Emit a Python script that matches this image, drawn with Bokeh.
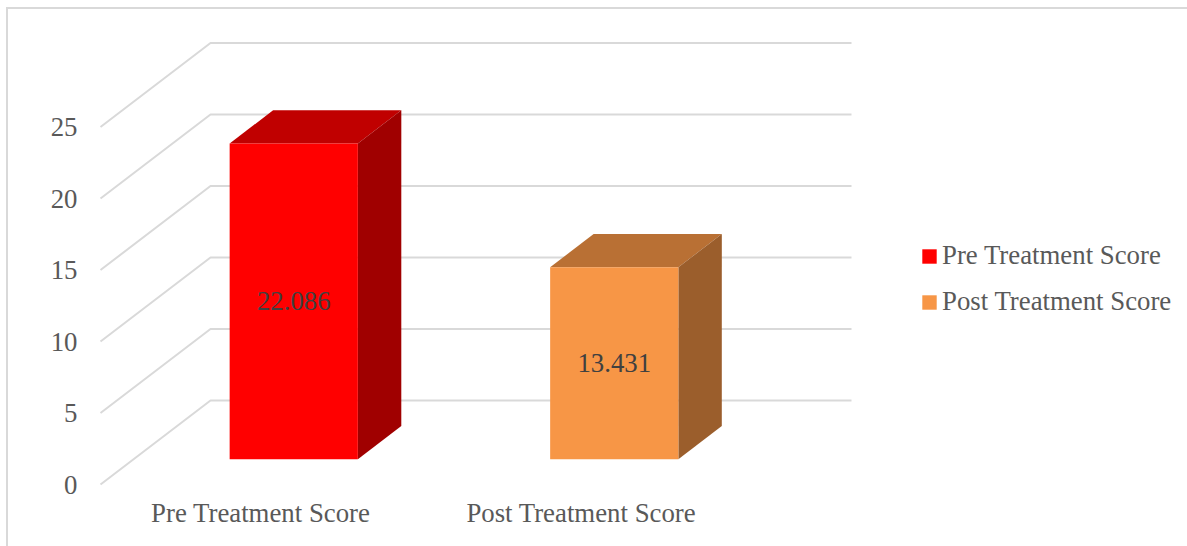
from bokeh.core.properties import value
from bokeh.embed import file_html
from bokeh.models import FixedTicker, Legend, LegendItem, Range1d
from bokeh.plotting import figure
from bokeh.resources import INLINE

categories = ["Pre Treatment Score", "Post Treatment Score"]
scores = [22.086, 13.431]
score_labels = ["22.086", "13.431"]
y_ticks = [0, 5, 10, 15, 20, 25]

front_colors = ["#ff0000", "#f79646"]
top_colors = ["#c00000", "#b97034"]
side_colors = ["#a00000", "#9b5e2c"]

FONT = "Liberation Serif"
TEXT_SIZE = "26.8px"
GRID_COLOR = "#d9d9d9"

# Page layout: the figure sits inside a thin top and left border
PAGE_W, PAGE_H = 1187, 546
PAD_X, PAD_Y = 8, 9
BORDER = 2
FRAME_LEFT, FRAME_BOTTOM = 85, 490

# Pixel scale of the chart's front plane, in page coordinates
ZERO_X, CATEGORY_PX = 100.0, 320.5
ZERO_Y, UNIT_PX = 484.0, 14.3

# Oblique projection: one unit of depth moves up and right by these amounts
DEPTH_X = 110.0 / CATEGORY_PX
DEPTH_Y = 84.0 / UNIT_PX
BAR_WIDTH = 0.4
BAR_NEAR, BAR_FAR = 0.3, 0.695


def project(x, v, depth):
    return x + depth * DEPTH_X, v + depth * DEPTH_Y


p = figure(
    width=PAGE_W - PAD_X + BORDER,
    height=PAGE_H - PAD_Y + BORDER,
    output_backend="svg",
    toolbar_location=None,
    min_border_left=FRAME_LEFT - PAD_X,
    min_border_right=0,
    min_border_top=0,
    min_border_bottom=PAGE_H - FRAME_BOTTOM + BORDER,
    x_range=Range1d((FRAME_LEFT - ZERO_X) / CATEGORY_PX, (PAGE_W + BORDER - ZERO_X) / CATEGORY_PX),
    y_range=Range1d((ZERO_Y - FRAME_BOTTOM) / UNIT_PX, (ZERO_Y - PAD_Y) / UNIT_PX),
    background_fill_color="white",
    border_fill_color="white",
    outline_line_color=None,
    margin=(PAD_Y - BORDER, 0, 0, PAD_X - BORDER),
    styles={
        "border-top": f"{BORDER}px solid {GRID_COLOR}",
        "border-left": f"{BORDER}px solid {GRID_COLOR}",
    },
)
p.grid.visible = False

# Axes
n = len(categories)
p.xaxis.ticker = FixedTicker(ticks=[i + 0.5 for i in range(n)])
p.xaxis.major_label_overrides = {i + 0.5: c for i, c in enumerate(categories)}
p.yaxis.ticker = FixedTicker(ticks=y_ticks)
p.yaxis.major_label_standoff = 2
p.xaxis.major_label_standoff = 1
for axis in (p.xaxis[0], p.yaxis[0]):
    axis.axis_line_color = None
    axis.major_tick_line_color = None
    axis.minor_tick_line_color = None
    axis.major_label_text_font = FONT
    axis.major_label_text_font_size = TEXT_SIZE
    axis.major_label_text_color = "#595959"

# Side wall and back wall gridlines
wall_xs, wall_ys = [], []
for v in y_ticks:
    a = project(0, v, 0)
    b = project(0, v, 1)
    c = project(n, v, 1)
    wall_xs.append([a[0], b[0], c[0]])
    wall_ys.append([a[1], b[1], c[1]])
p.multi_line(wall_xs, wall_ys, line_color=GRID_COLOR, line_width=2)

# Bars: top and side faces as polygons, front face as a quad
items = []
for i, score in enumerate(scores):
    x0 = i + 0.5 - BAR_WIDTH / 2
    x1 = i + 0.5 + BAR_WIDTH / 2
    fl = project(x0, 0, BAR_NEAR)
    ft = project(x0, score, BAR_NEAR)
    fr = project(x1, score, BAR_NEAR)
    fb = project(x1, 0, BAR_NEAR)
    bt_l = project(x0, score, BAR_FAR)
    bt_r = project(x1, score, BAR_FAR)
    bb_r = project(x1, 0, BAR_FAR)

    p.patch(
        [ft[0], bt_l[0], bt_r[0], fr[0]],
        [ft[1], bt_l[1], bt_r[1], fr[1]],
        fill_color=top_colors[i],
        line_color=None,
    )
    p.patch(
        [fr[0], bt_r[0], bb_r[0], fb[0]],
        [fr[1], bt_r[1], bb_r[1], fb[1]],
        fill_color=side_colors[i],
        line_color=None,
    )
    front = p.quad(
        left=fl[0],
        right=fr[0],
        bottom=fl[1],
        top=ft[1],
        fill_color=front_colors[i],
        line_color=None,
    )
    items.append(LegendItem(label=categories[i], renderers=[front]))

    lx, ly = project(i + 0.5, score / 2, BAR_NEAR)
    p.text(
        [lx],
        [ly],
        text=[score_labels[i]],
        text_font=value(FONT),
        text_font_size=TEXT_SIZE,
        text_color="#404040",
        text_align="center",
        text_baseline="middle",
    )

legend = Legend(
    items=items,
    location=(920 - FRAME_LEFT, FRAME_BOTTOM - 317),
    orientation="vertical",
    border_line_color=None,
    background_fill_alpha=0,
    padding=0,
    margin=0,
    spacing=15,
    glyph_width=18,
    glyph_height=18,
    label_standoff=4,
    label_height=30,
    label_text_font=FONT,
    label_text_font_size=TEXT_SIZE,
    label_text_color="#595959",
)
p.add_layout(legend)

open("out.html", "w").write(file_html(p, INLINE))
